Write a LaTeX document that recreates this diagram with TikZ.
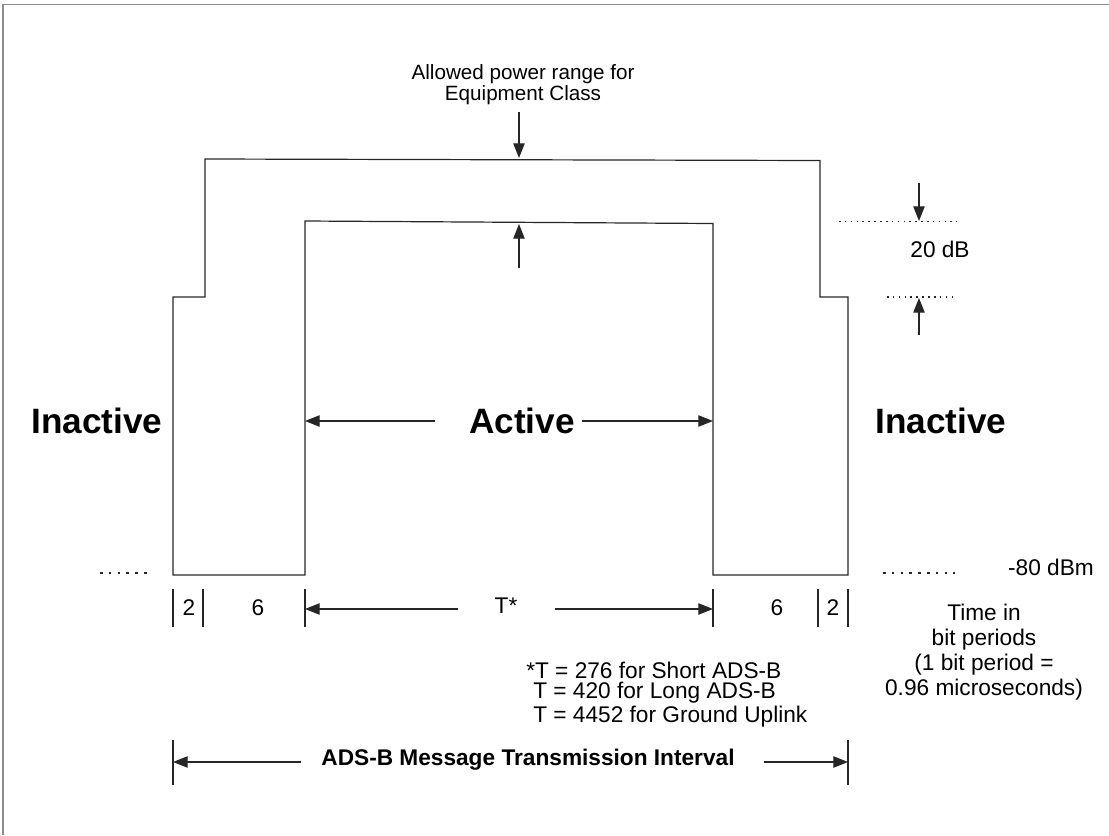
\documentclass[tikz,border=0pt]{standalone}
\usepackage{fontspec}
\setmainfont{Liberation Sans}
\usetikzlibrary{arrows.meta}
\begin{document}
\begin{tikzpicture}[x=0.75pt,y=-0.75pt,
  line/.style={draw=black!85, line width=0.9pt},
  arr/.style={line, -{Triangle[length=11pt,width=8.5pt]}},
  lbl/.style={inner sep=0pt, font=\fontsize{17}{19}\selectfont},
  toplbl/.style={inner sep=0pt, font=\fontsize{15.5}{17}\selectfont},
  multi/.style={inner sep=0pt, align=center, font=\fontsize{17}{18.75}\selectfont},
  big/.style={inner sep=0pt, font=\fontsize{26.4}{30}\selectfont\bfseries},
  boldlbl/.style={inner sep=0pt, font=\fontsize{17}{19}\selectfont\bfseries},
  dots/.style={draw=black!85, line width=1.4pt, dash pattern=on 1.2pt off 3.2pt},
  dashes/.style={draw=black!85, line width=1.1pt, dash pattern=on 2pt off 4.6pt}]
\useasboundingbox (0,0) rectangle (1109,835);
% frame
\coordinate (f1) at (3,835);
\coordinate (f2) at (3,4.5);
\coordinate (f3) at (1109,4.5);
\draw[draw=black!45, line width=1.2pt] (f1) -- (f2) -- (f3);

% mask polygon
\coordinate (m1) at (173,575);
\coordinate (m2) at (173,297);
\coordinate (m3) at (205,297);
\coordinate (m4) at (205,159);
\coordinate (m5) at (820,160.5);
\coordinate (m6) at (820,297);
\coordinate (m7) at (848,297);
\coordinate (m8) at (848,575);
\coordinate (m9) at (713,575);
\coordinate (m10) at (713,223.5);
\coordinate (m11) at (305,221);
\coordinate (m12) at (305,575);
\draw[line] (m1) -- (m2) -- (m3) -- (m4) -- (m5) -- (m6) -- (m7) -- (m8) -- (m9) -- (m10) -- (m11) -- (m12) -- cycle;

% top label
\node[toplbl] (t1) at (523,74) {Allowed power range for};
\node[toplbl] (t2) at (523,95) {Equipment Class};
\coordinate (ta1) at (519,112);
\coordinate (ta2) at (519,158);
\draw[arr] (ta1) -- (ta2);
\coordinate (ua1) at (519,268);
\coordinate (ua2) at (519,224);
\draw[arr] (ua1) -- (ua2);

% 20 dB
\coordinate (d1a) at (839,221.5);
\coordinate (d1b) at (957,221.5);
\draw[dots] (d1a) -- (d1b);
\coordinate (d2a) at (887,297);
\coordinate (d2b) at (957,297);
\draw[dots] (d2a) -- (d2b);
\coordinate (da1) at (919,183);
\coordinate (da2) at (919,221);
\draw[arr] (da1) -- (da2);
\coordinate (db1) at (919,335);
\coordinate (db2) at (919,298);
\draw[arr] (db1) -- (db2);
\node[lbl] (db) at (940,249) {20 dB};

% Active / Inactive
\node[big] (inl) at (97,421) {Inactive};
\node[big] (inr) at (941,421) {Inactive};
\node[big] (act) at (522,421) {Active};
\coordinate (al1) at (435,421);
\coordinate (al2) at (305,421);
\coordinate (ar1) at (582,421);
\coordinate (ar2) at (713,421);
\draw[arr] (al1) -- (al2);
\draw[arr] (ar1) -- (ar2);

% -80 dBm
\coordinate (e1a) at (100,573);
\coordinate (e1b) at (150,573);
\coordinate (e2a) at (883,573);
\coordinate (e2b) at (955,573);
\draw[dashes] (e1a) -- (e1b);
\draw[dashes] (e2a) -- (e2b);
\node[lbl] (dbm) at (1051,567) {-80 dBm};

% bit period ticks
\foreach \n/\x in {k1/173,k2/203,k3/305,k4/713,k5/818,k6/848}{
  \coordinate (\n a) at (\x,589);
  \coordinate (\n b) at (\x,627);
  \draw[line] (\n a) -- (\n b);
}
\node[lbl] (l2a) at (189,608) {2};
\node[lbl] (l6a) at (258,608) {6};
\node[lbl] (lT) at (506,606) {T*};
\node[lbl] (l6b) at (777,608) {6};
\node[lbl] (l2b) at (833,608) {2};
\coordinate (tl1) at (458,609);
\coordinate (tl2) at (305,609);
\coordinate (tr1) at (555,609);
\coordinate (tr2) at (713,609);
\draw[arr] (tl1) -- (tl2);
\draw[arr] (tr1) -- (tr2);

% time note
\node[multi] (tn) at (984,652) {Time in\\bit periods\\(1 bit period =\\0.96 microseconds)};

% footnote
\node[lbl, anchor=west] (fn1) at (526,670) {*T = 276 for Short ADS-B};
\node[lbl, anchor=west] (fn2) at (533,693) {T = 420 for Long ADS-B};
\node[lbl, anchor=west] (fn3) at (533,717) {T = 4452 for Ground Uplink};

% transmission interval
\coordinate (i1a) at (173,740);
\coordinate (i1b) at (173,785);
\coordinate (i2a) at (848,740);
\coordinate (i2b) at (848,785);
\draw[line] (i1a) -- (i1b);
\draw[line] (i2a) -- (i2b);
\node[boldlbl] (iv) at (528,760) {ADS-B Message Transmission Interval};
\coordinate (ia1) at (301,762);
\coordinate (ia2) at (173,762);
\coordinate (ib1) at (764,762);
\coordinate (ib2) at (848,762);
\draw[arr] (ia1) -- (ia2);
\draw[arr] (ib1) -- (ib2);
\end{tikzpicture}
\end{document}
